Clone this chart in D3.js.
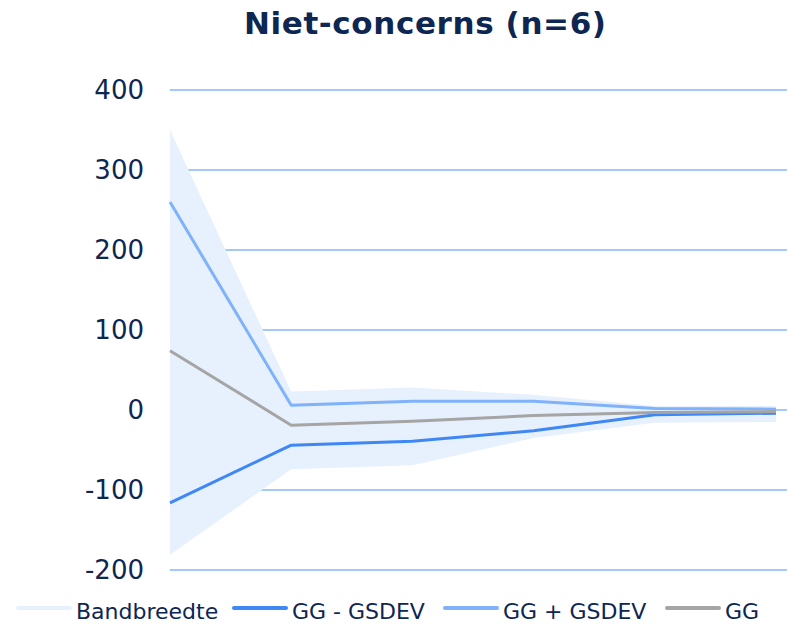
<!DOCTYPE html>
<html>
<head>
<meta charset="utf-8">
<script src="https://cdn.jsdelivr.net/npm/d3@7"></script>
<style>
  body { margin: 0; background: #fff; }
  text { font-family: "DejaVu Sans", Verdana, sans-serif; fill: #0d2652; }
</style>
</head>
<body>
<svg id="chart" width="789" height="625"></svg>
<script>
// Periods along the x axis (not labelled in the chart)
const categories = ["1", "2", "3", "4", "5", "6"];

const bandLower = [-181, -74, -69, -35, -16, -15];
const bandUpper = [350, 23, 28, 19, 5, 5];
const ggMinus = [-116, -44, -39, -26, -6, -4];
const ggPlus = [260, 6, 11, 11, 2, 1];
const gg = [74, -19, -14, -7, -3, -2];

const yTicks = [-200, -100, 0, 100, 200, 300, 400];

const svg = d3.select('#chart');

const x = d3.scalePoint().domain(categories).range([170, 776]);
const y = d3.scaleLinear().domain([-200, 400]).range([570, 90]);

// Title
svg.append('text')
    .attr('x', 425)
    .attr('y', 34)
    .attr('text-anchor', 'middle')
    .attr('textLength', 362)
    .attr('lengthAdjust', 'spacing')
    .style('font-size', '31px')
    .style('font-weight', 'bold')
    .text('Niet-concerns (n=6)');

// Gridlines
svg.append('g')
    .selectAll('line')
    .data(yTicks)
    .join('line')
    .attr('x1', 170)
    .attr('x2', 787)
    .attr('y1', d => y(d))
    .attr('y2', d => y(d))
    .style('stroke', '#86b6f9')
    .style('stroke-width', 1.5);

// Y axis labels (plain hyphen for negatives, like the original)
const yAxis = d3.axisLeft(y)
    .tickValues(yTicks)
    .tickFormat(d => String(d))
    .tickSize(0)
    .tickPadding(0);

svg.append('g')
    .attr('transform', 'translate(144,0)')
    .call(yAxis)
    .call(g => g.select('.domain').remove())
    .call(g => g.selectAll('text')
        .style('font-size', '26px')
        .style('font-family', '"DejaVu Sans", Verdana, sans-serif')
        .attr('fill', '#0d2652'));

// Band
const area = d3.area()
    .x((d, i) => x(categories[i]))
    .y0((d, i) => y(bandLower[i]))
    .y1((d, i) => y(bandUpper[i]));

svg.append('path')
    .datum(categories)
    .attr('d', area)
    .style('fill', '#e7f1fe');

const line = d3.line().x((d, i) => x(categories[i])).y(d => y(d));

const series = [
    { name: 'GG - GSDEV', values: ggMinus, color: '#3f87f5' },
    { name: 'GG + GSDEV', values: ggPlus, color: '#7fb2fb' },
    { name: 'GG', values: gg, color: '#a5a5a5' }
];

svg.append('g')
    .selectAll('path')
    .data(series)
    .join('path')
    .attr('d', d => line(d.values))
    .style('fill', 'none')
    .style('stroke', d => d.color)
    .style('stroke-width', 3)
    .style('stroke-linejoin', 'round');

// Legend
const legendItems = [
    { name: 'Bandbreedte', color: '#e7f1fe', x0: 18 },
    { name: 'GG - GSDEV', color: '#3f87f5', x0: 234 },
    { name: 'GG + GSDEV', color: '#7fb2fb', x0: 445 },
    { name: 'GG', color: '#a5a5a5', x0: 667 }
];

const legend = svg.append('g')
    .selectAll('g')
    .data(legendItems)
    .join('g')
    .attr('transform', d => `translate(${d.x0}, 608)`);

legend.append('line')
    .attr('x1', 0)
    .attr('x2', 52)
    .style('stroke', d => d.color)
    .style('stroke-width', 4)
    .style('stroke-linecap', 'round');

legend.append('text')
    .attr('x', 58)
    .attr('y', 11)
    .style('font-size', '22px')
    .text(d => d.name);
</script>
</body>
</html>
